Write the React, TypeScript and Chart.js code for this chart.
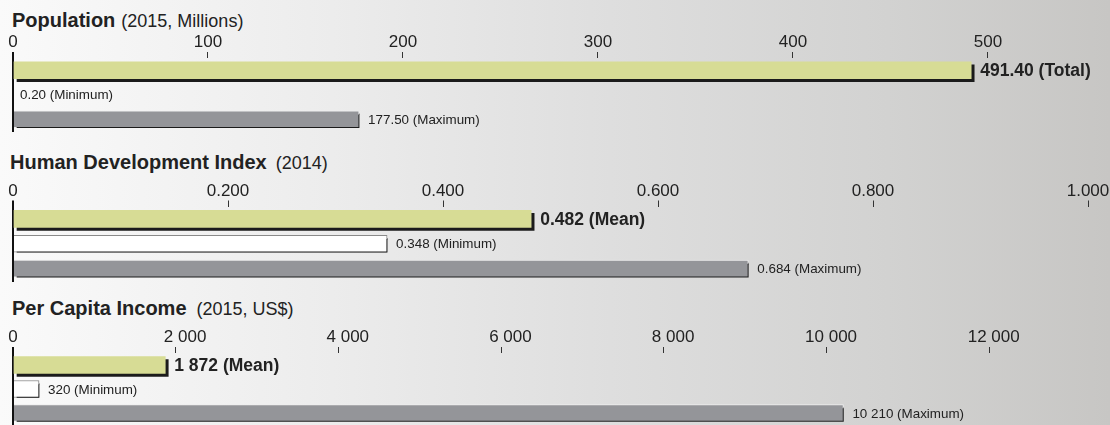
import React, { useEffect, useRef } from 'react';
import { Chart, registerables } from 'chart.js';
Chart.register(...registerables);

// ---------- data ----------
const popCategories = ['Total', 'Minimum', 'Maximum'];
const popValues = [491.4, 0.2, 177.5];
const popValueLabels = ['491.40 (Total)', '0.20 (Minimum)', '177.50 (Maximum)'];
const popTickStep = 100;
const popAxisMax = 551.3;

const hdiCategories = ['Mean', 'Minimum', 'Maximum'];
const hdiValues = [0.482, 0.348, 0.684];
const hdiValueLabels = ['0.482 (Mean)', '0.348 (Minimum)', '0.684 (Maximum)'];
const hdiTickStep = 0.2;
const hdiAxisMax = 1.0;

const incomeCategories = ['Mean', 'Minimum', 'Maximum'];
const incomeValues = [1872, 320, 10210];
const incomeValueLabels = ['1 872 (Mean)', '320 (Minimum)', '10 210 (Maximum)'];
const incomeTickStep = 2000;
const incomeAxisMax = 13217;

const titleNames = ['Population', 'Human Development Index', 'Per Capita Income'];
const titleSubs = ['(2015, Millions)', '(2014)', '(2015, US$)'];

// ---------- styling ----------
const FONT = '"Liberation Sans", Arial, Helvetica, sans-serif';
const barColors = ['#d7dc95', '#ffffff', '#949599'];
const barBorders = ['rgba(0,0,0,0)', '#8a8a8a', '#eeeeee'];
const barBorderWidths = [0, 1, 1];

function fmtPop(v: number) { return String(Math.round(v)); }
function fmtHdi(v: number) { return v === 0 ? '0' : v.toFixed(3); }
function fmtIncome(v: number) {
  if (v === 0) return '0';
  const s = Math.round(v).toString();
  const t = s.slice(0, s.length - 3) + ' ' + s.slice(s.length - 3);
  const pad = s.length === 4 ? '    ' : '  ';
  return pad + t;
}

const shadowLabelPlugin = {
  id: 'shadowLabels',
  beforeDatasetsDraw(chart: any) {
    const ctx = chart.ctx;
    ctx.save();
    ctx.shadowColor = '#1b1b1b';
    ctx.shadowOffsetX = 3;
    ctx.shadowOffsetY = 3;
    ctx.shadowBlur = 0;
  },
  afterDatasetsDraw(chart: any) {
    const ctx = chart.ctx;
    ctx.restore();
    const labels: string[] = chart.options.plugins.shadowLabels.labels;
    const meta = chart.getDatasetMeta(0);
    ctx.save();
    ctx.textBaseline = 'middle';
    ctx.textAlign = 'left';
    meta.data.forEach((bar: any, i: number) => {
      ctx.fillStyle = '#222';
      ctx.font = i === 0 ? `bold 17.5px ${FONT}` : `13.4px ${FONT}`;
      const off = bar.x - chart.chartArea.left < 3 ? 6 : 9;
      ctx.fillText(labels[i], bar.x + off, bar.y + 1);
    });
    ctx.restore();
  },
};

type PanelProps = {
  top: number;
  height: number;
  padTop: number;
  padBottom: number;
  categories: string[];
  values: number[];
  valueLabels: string[];
  step: number;
  max: number;
  fmt: (v: number) => string;
};

function Panel(p: PanelProps) {
  const ref = useRef<HTMLCanvasElement | null>(null);
  useEffect(() => {
    if (!ref.current) return;
    const chart = new Chart(ref.current, {
      type: 'bar',
      data: {
        labels: p.categories,
        datasets: [
          {
            data: p.values,
            backgroundColor: barColors,
            borderColor: barBorders,
            borderWidth: barBorderWidths,
            barThickness: 17,
            minBarLength: 1,
          } as any,
        ],
      },
      options: {
        indexAxis: 'y',
        responsive: false,
        animation: false,
        events: [],
        layout: { padding: { top: p.padTop, bottom: p.padBottom, left: 13, right: 22 } },
        plugins: {
          legend: { display: false },
          tooltip: { enabled: false },
          title: { display: false },
          shadowLabels: { labels: p.valueLabels },
        } as any,
        scales: {
          x: {
            type: 'linear',
            position: 'top',
            min: 0,
            max: p.max,
            border: { display: false },
            afterBuildTicks: (scale: any) => {
              const ticks: any[] = [];
              for (let i = 0; i * p.step <= p.max + 1e-9; i++) ticks.push({ value: i * p.step });
              scale.ticks = ticks;
            },
            grid: {
              display: true,
              drawOnChartArea: false,
              drawTicks: true,
              tickLength: 6,
              color: (c: any) => (c.tick && c.tick.value === 0 ? '#111' : '#333'),
              lineWidth: (c: any) => (c.tick && c.tick.value === 0 ? 2 : 1),
            },
            ticks: {
              autoSkip: false,
              maxRotation: 0,
              padding: 0,
              color: '#222',
              font: { family: FONT, size: 17, lineHeight: 1.1 },
              callback: (v: any) => p.fmt(Number(v)),
            },
          },
          y: {
            type: 'category',
            display: true,
            z: 1,
            grid: { display: false, drawTicks: false },
            ticks: { display: false },
            border: { display: true, width: 2, color: '#111' },
          },
        },
      } as any,
      plugins: [shadowLabelPlugin],
    });
    return () => chart.destroy();
  }, []);
  return (
    <canvas
      ref={ref}
      width={1110}
      height={p.height}
      style={{ position: 'absolute', left: 0, top: p.top, width: 1110, height: p.height }}
    />
  );
}

function Title({ name, sub, x, baseline, gap }: { name: string; sub: string; x: number; baseline: number; gap: number }) {
  return (
    <div
      style={{
        position: 'absolute',
        left: x,
        top: baseline - 17,
        whiteSpace: 'nowrap',
        fontFamily: FONT,
        color: '#222',
        lineHeight: '20px',
        fontSize: 20,
      }}
    >
      <span style={{ fontWeight: 'bold', fontSize: 20 }}>{name}</span>
      <span style={{ fontSize: 18, marginLeft: gap }}>{sub}</span>
    </div>
  );
}

export default function App() {
  return (
    <div
      style={{
        position: 'fixed',
        left: 0,
        top: 0,
        width: 1110,
        height: 425,
        overflow: 'hidden',
        background: 'linear-gradient(to right, #fafafa 0%, #ececec 30%, #dedede 55%, #d2d2d1 80%, #c7c6c4 100%)',
      }}
    >
      <Title name={titleNames[0]} sub={titleSubs[0]} x={12} baseline={27} gap={6} />
      <Title name={titleNames[1]} sub={titleSubs[1]} x={10} baseline={169} gap={9} />
      <Title name={titleNames[2]} sub={titleSubs[2]} x={12} baseline={315} gap={10} />
      <Panel top={0} height={134} padTop={33.3} padBottom={2.5} categories={popCategories} values={popValues}
        valueLabels={popValueLabels} step={popTickStep} max={popAxisMax} fmt={fmtPop} />
      <Panel top={134} height={150} padTop={47.8} padBottom={3} categories={hdiCategories} values={hdiValues}
        valueLabels={hdiValueLabels} step={hdiTickStep} max={hdiAxisMax} fmt={fmtHdi} />
      <Panel top={284} height={141} padTop={44.3} padBottom={0} categories={incomeCategories} values={incomeValues}
        valueLabels={incomeValueLabels} step={incomeTickStep} max={incomeAxisMax} fmt={fmtIncome} />
    </div>
  );
}
